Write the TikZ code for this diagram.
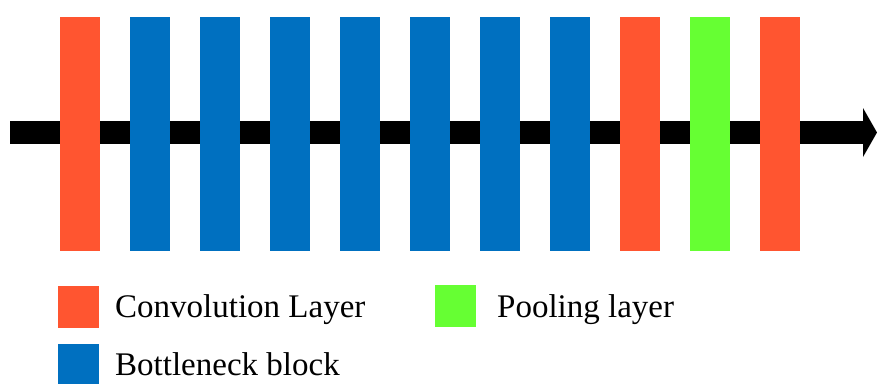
\documentclass[tikz,border=0pt]{standalone}
\usepackage{fontspec}
\setmainfont{Liberation Serif}
\definecolor{convorange}{RGB}{255,85,48}
\definecolor{bottleblue}{RGB}{0,112,192}
\definecolor{poolgreen}{RGB}{102,255,51}
\begin{document}
\begin{tikzpicture}[x=1pt,y=-1pt,
  layer/.style={draw=none,inner sep=0pt,minimum width=40pt,minimum height=234pt,anchor=north west},
  swatch/.style={draw=none,inner sep=0pt,minimum width=41pt,minimum height=42pt,anchor=north west},
  legendtext/.style={anchor=base west,inner sep=0pt,font=\fontsize{33}{36}\selectfont}]
\useasboundingbox (0,0) rectangle (877,383);
% flow arrow behind the layers
\fill[black] (10,121) rectangle (864,144);
\fill[black] (863,108) -- (877,132.5) -- (863,157) -- cycle;
% layers
\node[layer,fill=convorange] (c1) at (60,17) {};
\foreach \i/\x in {1/130,2/200,3/270,4/340,5/410,6/480,7/550}
  \node[layer,fill=bottleblue] (b\i) at (\x,17) {};
\node[layer,fill=convorange] (c2) at (620,17) {};
\node[layer,fill=poolgreen] (p1) at (690,17) {};
\node[layer,fill=convorange] (c3) at (760,17) {};
% legend
\node[swatch,fill=convorange] (lc) at (58,286) {};
\node[legendtext] (tc) at (115,317) {Convolution Layer};
\node[swatch,fill=poolgreen] (lp) at (435,285) {};
\node[legendtext] (tp) at (497,317) {Pooling layer};
\node[swatch,fill=bottleblue] (lb) at (58,344) {};
\node[legendtext] (tb) at (115,375) {Bottleneck block};
\end{tikzpicture}
\end{document}
